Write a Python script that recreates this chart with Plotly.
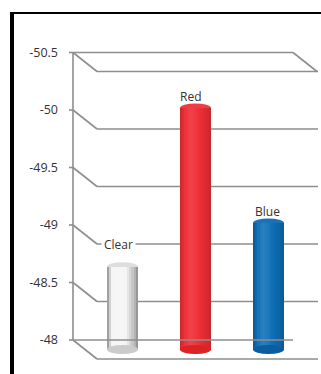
import plotly.graph_objects as go

# ---- data -------------------------------------------------------------
CATEGORIES = ["Clear", "Red", "Blue"]
VALUES = [-48.72, -50.10, -49.10]
BASE_VALUE = -48.0
TICK_VALUES = [-50.5, -50.0, -49.5, -49.0, -48.5, -48.0]
TICK_LABELS = ["-50.5", "-50", "-49.5", "-49", "-48.5", "-48"]

# ---- geometry (pixels) -------------------------------------------------
W, H = 321, 374
M_L, M_R, M_T, M_B = 60, 0, 14, 0
PLOT_W = W - M_L - M_R
PLOT_H = H - M_T - M_B
PX_PER_UNIT = 115.0          # vertical scale of the value axis
PX_PER_CAT = 73.0            # distance between cylinder centres
FIRST_CAT_PX = 122.5         # centre of the first cylinder
TOP_TICK_PX = 52.5           # row of the first tick
AXIS_PX = 73                 # front vertical axis
DEPTH_DX, DEPTH_DY = 24, 19  # 3-D depth offset of the back wall
FRONT_LEN = 220              # length of the front edges
BACK_LEN = 221               # length of the back-wall gridlines
BAR_PX = 31                  # cylinder diameter
CAP_RY = 4.5                 # half height of the elliptical ends
N_STRIPS = 14

GRID_COLOR = "#8e8e8e"
GRID_W = 1.6
TEXT_COLOR = "#333333"
FONT = "Open Sans"
FONT_SIZE = 12
TICK_FONT_SIZE = 12.5

# value axis (front plane)
y_top = TICK_VALUES[0] - (TOP_TICK_PX - M_T) / PX_PER_UNIT
y_bottom = y_top + PLOT_H / PX_PER_UNIT
# cylinders sit half-way into the depth
half_depth = (DEPTH_DY / 2) / PX_PER_UNIT
y2_top, y2_bottom = y_top - half_depth, y_bottom - half_depth

x_left = (M_L - FIRST_CAT_PX) / PX_PER_CAT
x_right = x_left + PLOT_W / PX_PER_CAT
axis_x = (AXIS_PX - FIRST_CAT_PX) / PX_PER_CAT
bar_w = BAR_PX / PX_PER_CAT

# ---- cylinder shading ---------------------------------------------------
BAR_BASE_RGB = [(244, 244, 244), (237, 47, 54), (14, 111, 183)]
SHADE_STRENGTH = [1.0, 0.4, 0.5]
PROFILE = [-0.34, -0.14, 0.05, 0.16, 0.22, 0.2, 0.14, 0.07, 0.0,
           -0.06, -0.12, -0.19, -0.27, -0.38]
TOP_CAP = ["#dedede", "#ef3c42", "#1a72b8"]
BOTTOM_CAP = ["#cbcbcb", "#dc2229", "#0b5d9f"]
LABEL_LIFT = [22.5, 12, 12]
LABEL_NUDGE = [-4, -5, -1]


def shade(rgb, t):
    if t >= 0:
        return "rgb(%d,%d,%d)" % tuple(round(c + (255 - c) * t) for c in rgb)
    return "rgb(%d,%d,%d)" % tuple(round(c * (1 + t)) for c in rgb)


xs = list(range(len(CATEGORIES)))
lengths = [v - BASE_VALUE for v in VALUES]

fig = go.Figure()
strip_w = bar_w / N_STRIPS
for i in range(N_STRIPS):
    colors = [shade(BAR_BASE_RGB[k], PROFILE[i] * SHADE_STRENGTH[k])
              for k in range(len(CATEGORIES))]
    fig.add_trace(go.Bar(
        x=xs, y=lengths, base=BASE_VALUE,
        width=strip_w * 1.15, offset=-bar_w / 2 + i * strip_w,
        marker=dict(color=colors, line=dict(width=0)),
        yaxis="y2", hoverinfo="skip", showlegend=False,
    ))

shapes = []


def wall_line(v, x0, x1, y0, y1, layer="below"):
    shapes.append(dict(
        type="line", xref="x", yref="y", layer=layer,
        xsizemode="pixel", xanchor=axis_x, x0=x0, x1=x1,
        ysizemode="pixel", yanchor=v, y0=y0, y1=y1,
        line=dict(color=GRID_COLOR, width=GRID_W),
    ))


# front vertical axis line
shapes.append(dict(
    type="line", xref="x", yref="y", layer="below",
    xsizemode="pixel", xanchor=axis_x, x0=0, x1=0,
    y0=TICK_VALUES[0], y1=TICK_VALUES[-1],
    line=dict(color=GRID_COLOR, width=GRID_W),
))
for v in TICK_VALUES:
    wall_line(v, -4, 0, 0, 0)                                   # tick mark
    wall_line(v, 0, DEPTH_DX, 0, -DEPTH_DY)                     # side wall
    wall_line(v, DEPTH_DX, DEPTH_DX + BACK_LEN, -DEPTH_DY, -DEPTH_DY)
# top frame of the box
wall_line(TICK_VALUES[0], 0, FRONT_LEN, 0, 0)
wall_line(TICK_VALUES[0], FRONT_LEN, FRONT_LEN + DEPTH_DX, 0, -DEPTH_DY)

# cylinder ends
for k, v in enumerate(VALUES):
    shapes.append(dict(
        type="circle", xref="x", yref="y2", layer="below",
        xsizemode="pixel", xanchor=k, x0=-BAR_PX / 2, x1=BAR_PX / 2,
        ysizemode="pixel", yanchor=v, y0=-CAP_RY, y1=CAP_RY,
        fillcolor=TOP_CAP[k], line=dict(width=0),
    ))
    shapes.append(dict(
        type="circle", xref="x", yref="y2", layer="above",
        xsizemode="pixel", xanchor=k, x0=-BAR_PX / 2, x1=BAR_PX / 2,
        ysizemode="pixel", yanchor=BASE_VALUE, y0=-CAP_RY, y1=CAP_RY,
        fillcolor=BOTTOM_CAP[k], line=dict(width=0),
    ))

# front floor edge passes in front of the cylinders
wall_line(TICK_VALUES[-1], 0, FRONT_LEN, 0, 0, layer="above")

# black frame on the left and top
frame_x = (12 - M_L) / PLOT_W
frame_y = (H - 13) / PLOT_H
shapes.append(dict(type="line", xref="paper", yref="paper",
                   x0=frame_x, x1=frame_x, y0=frame_y + 0.003, y1=-0.1,
                   line=dict(color="black", width=4)))
shapes.append(dict(type="line", xref="paper", yref="paper",
                   x0=frame_x - 0.006, x1=1.1, y0=frame_y, y1=frame_y,
                   line=dict(color="black", width=2)))

annotations = []
for k, name in enumerate(CATEGORIES):
    annotations.append(dict(
        x=k, y=VALUES[k], xref="x", yref="y2", text=name,
        showarrow=False, yanchor="middle", xanchor="center",
        yshift=LABEL_LIFT[k], xshift=LABEL_NUDGE[k],
        font=dict(family=FONT, size=FONT_SIZE, color=TEXT_COLOR),
        bgcolor="white" if k == 0 else None, borderpad=2,
    ))

fig.update_layout(
    width=W, height=H,
    margin=dict(l=M_L, r=M_R, t=M_T, b=M_B, pad=0),
    paper_bgcolor="white", plot_bgcolor="white",
    barmode="overlay", bargap=0,
    showlegend=False,
    xaxis=dict(range=[x_left, x_right], visible=False, fixedrange=True),
    yaxis=dict(
        range=[y_bottom, y_top], tickvals=TICK_VALUES, ticktext=TICK_LABELS,
        showgrid=False, zeroline=False, showline=False, ticks="",
        ticklabelstandoff=1,
        tickfont=dict(family=FONT, size=TICK_FONT_SIZE, color=TEXT_COLOR),
        fixedrange=True,
    ),
    yaxis2=dict(range=[y2_bottom, y2_top], overlaying="y", visible=False,
                fixedrange=True),
    shapes=shapes,
    annotations=annotations,
)

fig.write_html("out.html", config={"displayModeBar": False})
